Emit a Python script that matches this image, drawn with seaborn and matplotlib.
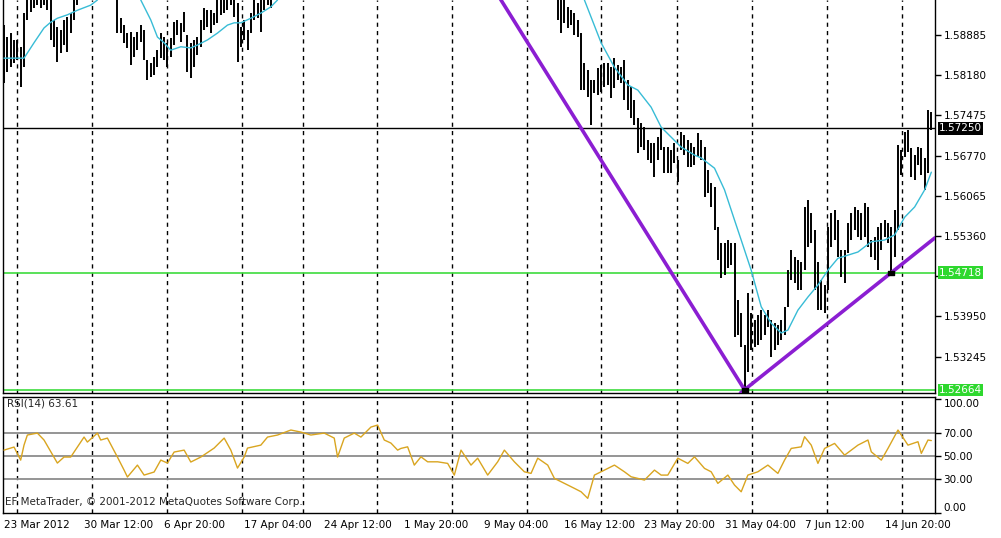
import matplotlib
matplotlib.use("Agg")
import matplotlib.pyplot as plt
import numpy as np
import pandas as pd
import seaborn as sns

# GBPUSD-style bar chart, bar 0 = 23 Mar 2012. None = bar above the visible price range
highs = [
    1.5906, 1.5885, 1.5892, 1.5880, 1.5880, 1.5868, 1.5927, 1.5960, 1.5962, 1.5965,
    1.5968, 1.5966, 1.5968, 1.5964, 1.5958, 1.5915, 1.5903, 1.5897, 1.5915, 1.5920,
    1.5927, 1.5960, 1.5968,
] + [None] * 11 + [
    1.5960, 1.5918, 1.5906, 1.5892, 1.5894, 1.5885, 1.5894, 1.5906, 1.5897, 1.5845,
    1.5840, 1.5850, 1.5862, 1.5892, 1.5885, 1.5875, 1.5883, 1.5911, 1.5915, 1.5910,
    1.5929, 1.5889, 1.5875, 1.5880, 1.5885, 1.5915, 1.5936, 1.5932, 1.5932, 1.5927,
    1.5960, 1.5960, 1.5962, 1.5965, 1.5966, 1.5960, 1.5945, 1.5903, 1.5915, 1.5897,
    1.5927, 1.5960, 1.5945, 1.5958, 1.5965, 1.5968, 1.5970,
] + [None] * 85 + [
    1.5960, 1.5962, 1.5960, 1.5938, 1.5932, 1.5927, 1.5915, 1.5892, 1.5840, 1.5827,
    1.5810, 1.5810, 1.5831, 1.5836, 1.5840, 1.5840, 1.5832, 1.5848, 1.5836, 1.5832,
    1.5845, 1.5810, 1.5797, 1.5775, 1.5743, 1.5734, 1.5727, 1.5704, 1.5699, 1.5699,
    1.5710, 1.5725, 1.5692, 1.5692, 1.5687, 1.5699, 1.5669, 1.5718, 1.5713, 1.5704,
    1.5699, 1.5692, 1.5717, 1.5704, 1.5692, 1.5652, 1.5629, 1.5622, 1.5552, 1.5524,
    1.5524, 1.5529, 1.5524, 1.5524, 1.5424, 1.5401, 1.5345, 1.5436, 1.5401, 1.5389,
    1.5398, 1.5406, 1.5398, 1.5406, 1.5389, 1.5383, 1.5380, 1.5389, 1.5412, 1.5476,
    1.5511, 1.5499, 1.5494, 1.5490, 1.5587, 1.5599, 1.5576, 1.5547, 1.5490, 1.5459,
    1.5450, 1.5552, 1.5576, 1.5582, 1.5564, 1.5511, 1.5511, 1.5559, 1.5576, 1.5587,
    1.5582, 1.5576, 1.5594, 1.5587, 1.5529, 1.5534, 1.5552, 1.5559, 1.5564, 1.5559,
    1.5552, 1.5582, 1.5696, 1.5687, 1.5718, 1.5722, 1.5690, 1.5678, 1.5692, 1.5690,
    1.5673, 1.5757, 1.5754,
]
lows = [
    1.5804, 1.5824, 1.5832, 1.5840, 1.5845, 1.5797, 1.5832, 1.5915, 1.5929, 1.5936,
    1.5941, 1.5936, 1.5941, 1.5932, 1.5880, 1.5868, 1.5841, 1.5857, 1.5871, 1.5859,
    1.5892, 1.5915, 1.5941,
] + [None] * 11 + [
    1.5892, 1.5892, 1.5875, 1.5866, 1.5836, 1.5850, 1.5862, 1.5876, 1.5845, 1.5810,
    1.5815, 1.5818, 1.5832, 1.5848, 1.5845, 1.5832, 1.5850, 1.5871, 1.5889, 1.5876,
    1.5894, 1.5824, 1.5813, 1.5832, 1.5854, 1.5868, 1.5897, 1.5903, 1.5892, 1.5906,
    1.5910, 1.5924, 1.5927, 1.5932, 1.5941, 1.5920, 1.5841, 1.5868, 1.5880, 1.5862,
    1.5892, 1.5915, 1.5918, 1.5894, 1.5932, 1.5941, 1.5936,
] + [None] * 85 + [
    1.5915, 1.5892, 1.5910, 1.5901, 1.5906, 1.5889, 1.5885, 1.5792, 1.5792, 1.5780,
    1.5731, 1.5787, 1.5783, 1.5789, 1.5797, 1.5801, 1.5778, 1.5796, 1.5810, 1.5804,
    1.5775, 1.5757, 1.5743, 1.5731, 1.5682, 1.5692, 1.5687, 1.5669, 1.5664, 1.5640,
    1.5669, 1.5687, 1.5647, 1.5647, 1.5647, 1.5664, 1.5631, 1.5687, 1.5678, 1.5657,
    1.5657, 1.5661, 1.5675, 1.5669, 1.5604, 1.5611, 1.5587, 1.5547, 1.5494, 1.5462,
    1.5468, 1.5480, 1.5485, 1.5359, 1.5362, 1.5341, 1.52664, 1.5298, 1.5336, 1.5341,
    1.5345, 1.5354, 1.5362, 1.5376, 1.5324, 1.5336, 1.5345, 1.5354, 1.5362, 1.5412,
    1.5459, 1.5454, 1.5441, 1.5441, 1.5476, 1.5517, 1.5524, 1.5441, 1.5406, 1.5406,
    1.5401, 1.5441, 1.5517, 1.5529, 1.5499, 1.5464, 1.5454, 1.5506, 1.5529, 1.5547,
    1.5534, 1.5529, 1.5534, 1.5517, 1.5499, 1.5494, 1.5476, 1.5511, 1.5534, 1.5524,
    1.54718, 1.5499, 1.5547, 1.5643, 1.5675, 1.5683, 1.5640, 1.5634, 1.5661, 1.5643,
    1.5617, 1.5647, 1.5722,
]

# moving average (cyan), None marks where it leaves the window
ma_bars = [0, 6, 9, 12, 14, 16, 19, 22, 26, 28, None,
           41, 44, 46, 48, 50, 53, 56, 58, 61, 64, 67, 69, 71, 74, 77, 80, 82, None,
           174, 179, 183, 187, 190, 194, 197, 203, 207, 209, 213, 216, 219, 221, 224,
           227, 230, 233, 235, 238, 241, 244, 247, 250, 256, 260, 264, 267, 270, 273,
           276, 278]
ma_prices = [1.5848, 1.5848, 1.5875, 1.5901, 1.5911, 1.5918, 1.5924, 1.5932, 1.5941, 1.5950, None,
             1.5950, 1.5915, 1.5885, 1.5875, 1.5862, 1.5868, 1.5866, 1.5871, 1.5880, 1.5892,
             1.5906, 1.5910, 1.5910, 1.5918, 1.5927, 1.5938, 1.5950, None,
             1.5950, 1.5875, 1.5832, 1.5801, 1.5792, 1.5762, 1.5727, 1.5692, 1.5678, 1.5673,
             1.5655, 1.5617, 1.5564, 1.5529, 1.5476, 1.5412, 1.5383, 1.5366, 1.5371, 1.5406,
             1.5429, 1.5450, 1.5476, 1.5497, 1.5508, 1.5526, 1.5529, 1.5538, 1.5569, 1.5587,
             1.5617, 1.5648]

# RSI(14)
rsi_bars = [0, 3, 5, 6, 7, 10, 12, 16, 18, 20, 24, 25, 28, 29, 31, 34, 36, 37, 40, 42,
            45, 47, 49, 51, 54, 56, 59, 63, 66, 68, 70, 72, 73, 77, 79, 82, 86, 89, 92, 96,
            99, 100, 102, 105, 107, 110, 112, 114, 116, 118, 119, 121, 123, 125, 127, 130, 133, 135, 137, 140,
            142, 145, 148, 150, 153, 156, 158, 160, 163, 165, 168, 171, 173, 175, 177, 180, 183, 186, 188, 190,
            192, 195, 197, 199, 202, 205, 207, 210, 212, 214, 217, 219, 221, 223, 226, 229, 232, 234, 236, 239,
            240, 242, 244, 246, 249, 252, 256, 259, 260, 263, 265, 268, 271, 274, 275, 277, 278]
rsi_values = [55.2, 57.9, 46.4, 59.6, 68.5, 70.2, 64.1, 43.8, 49.1, 49.1, 66.7, 62.3, 70.2, 64.1, 65.8, 49.1, 37.6, 31.5, 42.0, 33.2,
              35.9, 46.4, 43.8, 53.5, 55.2, 44.7, 49.1, 57.0, 65.8, 55.2, 39.4, 49.1, 57.0, 59.6, 66.7, 68.5, 72.9, 71.1, 68.5, 70.2,
              65.8, 49.1, 65.8, 70.2, 66.7, 75.5, 77.3, 64.1, 61.4, 55.2, 56.7, 58.1, 42.0, 49.3, 44.9, 44.9, 43.5, 33.2, 55.2, 42.0,
              48.1, 33.2, 44.9, 55.2, 44.9, 36.1, 34.7, 48.1, 42.0, 30.3, 25.9, 21.5, 18.5, 12.7, 33.2, 37.6, 42.0, 36.1, 31.7, 30.3,
              28.8, 37.6, 33.2, 33.2, 48.1, 43.5, 49.3, 39.1, 36.1, 25.9, 33.2, 24.4, 18.5, 33.2, 36.1, 42.0, 34.7, 46.4, 56.7, 58.1,
              67.0, 59.6, 43.5, 56.7, 61.1, 50.8, 59.6, 64.1, 53.7, 46.4, 56.7, 72.9, 59.6, 62.6, 52.3, 64.1, 63.6]
rsi_levels = [30, 50, 70]

# trend lines (purple) and their anchor bars
trend_down_bars = [146, 222]
trend_down_prices = [1.5978, 1.52664]
trend_up_bars = [222, 266]
trend_up_prices = [1.52664, 1.54718]

last_price = 1.57250
support_levels = [1.54718, 1.52664]

price_ticks = [1.58885, 1.58180, 1.57475, 1.56770, 1.56065, 1.55360, 1.54655, 1.53950, 1.53245]
# 1.54655 sits under the 1.54718 marker box
price_tick_labels = ["1.58885", "1.58180", "1.57475", "1.56770", "1.56065", "1.55360", "", "1.53950", "1.53245"]
rsi_ticks = [0, 30, 50, 70, 100]
label_bars = [0, 24, 48, 72, 96, 120, 144, 168, 192, 216, 240, 264]
date_labels = ["23 Mar 2012", "30 Mar 12:00", "6 Apr 20:00", "17 Apr 04:00", "24 Apr 12:00",
               "1 May 20:00", "9 May 04:00", "16 May 12:00", "23 May 20:00", "31 May 04:00",
               "7 Jun 12:00", "14 Jun 20:00"]
separator_bars = [3.8, 26.3, 48.8, 71.3, 89.5, 111.7, 134.3, 156.8, 179.0, 201.7, 224.2, 246.7, 269.2]

sns.set_style("white")
plt.rcParams["font.family"] = ["DejaVu Sans"]

W, H = 1001, 538
fig = plt.figure(figsize=(W / 100, H / 100), dpi=100)
ax = fig.add_axes([3 / W, 1 - 393 / H, 932 / W, 393 / H])
rax = fig.add_axes([3 / W, 1 - 513 / H, 932 / W, 116 / H])

# --- price panel ---
bars = np.arange(len(highs))
hi = np.array(highs, dtype=float)
lo = np.array(lows, dtype=float)
ok = ~np.isnan(hi)
ax.vlines(bars[ok], lo[ok], hi[ok], color="black", lw=1.4, zorder=3)

ma = pd.DataFrame({"bar": ma_bars, "price": ma_prices})
ma["seg"] = ma["price"].isna().cumsum()
ma = ma.dropna()
sns.lineplot(data=ma, x="bar", y="price", units="seg", estimator=None,
             color="#38bcd6", lw=1, ax=ax, zorder=4)

ax.axhline(last_price, color="black", lw=1, zorder=2)
for p in support_levels:
    ax.axhline(p, color="#3ddc3d", lw=1.2, zorder=2)

purple = "#8b1ed2"
ax.plot(trend_down_bars, trend_down_prices, color=purple, lw=2.6, zorder=5)
ax.axline((trend_up_bars[0], trend_up_prices[0]), (trend_up_bars[1], trend_up_prices[1]),
          color=purple, lw=2.6, zorder=5)
rect = [(-1.6, -1), (1.6, -1), (1.6, 1), (-1.6, 1), (-1.6, -1)]
ax.plot(trend_up_bars, trend_up_prices, ls="none", marker=rect, ms=5, color="black", zorder=6)

for a in (ax, rax):
    for b in separator_bars:
        a.axvline(b, color="black", lw=1, ls=(0, (3, 3)), zorder=1)
    a.set_xlim(-0.3, 279.1)
    for s in a.spines.values():
        s.set_color("black")
        s.set_linewidth(1)
    a.yaxis.tick_right()
    a.set_xlabel("")
    a.set_ylabel("")

ax.set_ylim(1.52607, 1.5950)
ax.spines["top"].set_visible(False)
ax.set_xticks([])
ax.set_yticks(price_ticks)
ax.set_yticklabels(price_tick_labels)
ax.tick_params(axis="y", direction="out", length=4, width=1, labelsize=7.5, pad=2, colors="black")

boxes = [(last_price, "black")] + [(p, "#2ed82e") for p in support_levels]
for p, c in boxes:
    ax.annotate(f"{p:.5f}", xy=(1, p), xycoords=("axes fraction", "data"),
                xytext=(4, 0), textcoords="offset pixels", ha="left", va="center",
                fontsize=7.5, color="white", annotation_clip=False, zorder=10,
                bbox=dict(boxstyle="square,pad=0.12", fc=c, ec="none"))

# --- RSI panel ---
for v in rsi_levels:
    rax.axhline(v, color="#8c8c8c", lw=1.3, zorder=1)
sns.lineplot(x=rsi_bars, y=rsi_values, color="#d9a520", lw=1, ax=rax, zorder=3)
rax.set_ylim(-0.2, 102)
rax.set_yticks(rsi_ticks)
rax.set_yticklabels([f"{v:.2f}" for v in rsi_ticks])
rax.tick_params(axis="y", direction="out", length=4, width=1, labelsize=7.5, pad=2, colors="black")
ylabs = rax.get_yticklabels()
ylabs[0].set_va("bottom")
ylabs[-1].set_va("top")

rax.set_xticks(label_bars)
rax.set_xticklabels(date_labels)
rax.tick_params(axis="x", direction="out", length=4, width=1, labelsize=7.5, pad=1, colors="black")
for t in rax.get_xticklabels():
    t.set_ha("left")

rax.text(0.004, 0.985, "RSI(14) 63.61", transform=rax.transAxes, ha="left", va="top", fontsize=7.5)
rax.text(0.002, 0.095, "EF MetaTrader, © 2001-2012 MetaQuotes Software Corp.",
         transform=rax.transAxes, ha="left", va="center", fontsize=7.5)

fig.savefig("out.png", dpi=100)
